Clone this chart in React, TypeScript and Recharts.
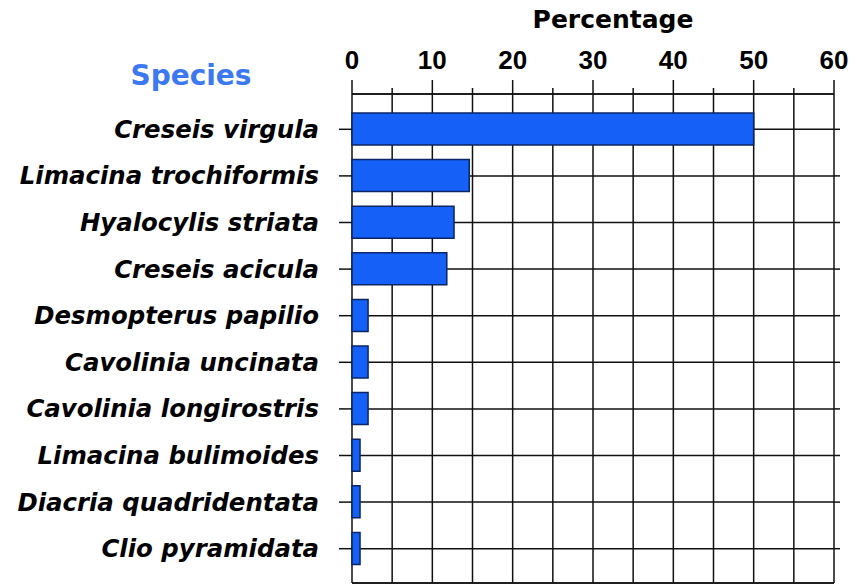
import { BarChart, Bar, XAxis, YAxis, CartesianGrid } from 'recharts';

const species = [
  'Creseis virgula',
  'Limacina trochiformis',
  'Hyalocylis striata',
  'Creseis acicula',
  'Desmopterus papilio',
  'Cavolinia uncinata',
  'Cavolinia longirostris',
  'Limacina bulimoides',
  'Diacria quadridentata',
  'Clio pyramidata',
];
const percentages = [50, 14.6, 12.7, 11.8, 2, 2, 2, 1, 1, 1];
const xTicks = [0, 5, 10, 15, 20, 25, 30, 35, 40, 45, 50, 55, 60];

const W = 859;
const H = 586;
const MARGIN_RIGHT = 25;
const FONT = '"DejaVu Sans", sans-serif';
const NUM_FONT = '"Liberation Sans", Arial, sans-serif';
const INK = '#111';

const data = species.map((name, i) => ({ name, value: percentages[i] }));

function TopTick({ x, y, payload }: any) {
  const major = payload.value % 10 === 0;
  return (
    <g>
      <line x1={x} x2={x} y1={y} y2={y - (major ? 14 : 6)} stroke={INK} strokeWidth={1.5} />
      {major && (
        <text x={x} y={y - 25} textAnchor="middle" fontFamily={NUM_FONT} fontWeight="bold" fontSize={26} fill="#000">
          {payload.value}
        </text>
      )}
    </g>
  );
}

function SpeciesTick({ x, y, payload }: any) {
  return (
    <g>
      <line x1={x - 13} x2={x} y1={y} y2={y} stroke={INK} strokeWidth={1.5} />
      <line x1={W - MARGIN_RIGHT} x2={W - MARGIN_RIGHT + 6} y1={y} y2={y} stroke={INK} strokeWidth={1.5} />
      <text
        x={x - 33}
        y={y}
        dy={8.5}
        textAnchor="end"
        fontFamily={FONT}
        fontWeight="bold"
        fontStyle="italic"
        fontSize={24.4}
        fill="#000"
      >
        {payload.value}
      </text>
    </g>
  );
}

export default function App() {
  return (
    <div style={{ position: 'absolute', left: 0, top: 0, width: W, height: H, background: '#fff' }}>
      <BarChart
        width={W}
        height={H}
        data={data}
        layout="vertical"
        margin={{ top: 0, right: MARGIN_RIGHT, bottom: 0, left: 0 }}
      >
        <CartesianGrid stroke={INK} strokeWidth={1.5} />
        <XAxis
          type="number"
          orientation="top"
          domain={[0, 60]}
          ticks={xTicks}
          interval={0}
          height={94}
          tickLine={false}
          tickSize={0}
          tickMargin={0}
          axisLine={{ stroke: INK, strokeWidth: 1.5 }}
          tick={<TopTick />}
          label={{
            value: 'Percentage',
            position: 'insideTop',
            dx: 20,
            offset: 10,
            fontFamily: FONT,
            fontWeight: 'bold',
            fontSize: 25,
            fill: '#000',
          }}
        />
        <XAxis
          xAxisId="bottom"
          type="number"
          orientation="bottom"
          domain={[0, 60]}
          height={3}
          tick={false}
          tickLine={false}
          axisLine={{ stroke: INK, strokeWidth: 1.5 }}
        />
        <YAxis
          type="category"
          dataKey="name"
          width={352}
          interval={0}
          tickLine={false}
          tickSize={0}
          tickMargin={0}
          axisLine={false}
          padding={{ top: 12, bottom: 11 }}
          tick={<SpeciesTick />}
          label={{
            value: 'Species',
            position: 'top',
            dx: 15,
            offset: 9,
            fontFamily: FONT,
            fontWeight: 'bold',
            fontSize: 28,
            fill: '#3b78f2',
          }}
        />
        <Bar dataKey="value" fill="#1560f7" stroke="#0b2566" strokeWidth={1.5} barSize={32} isAnimationActive={false} />
      </BarChart>
    </div>
  );
}
